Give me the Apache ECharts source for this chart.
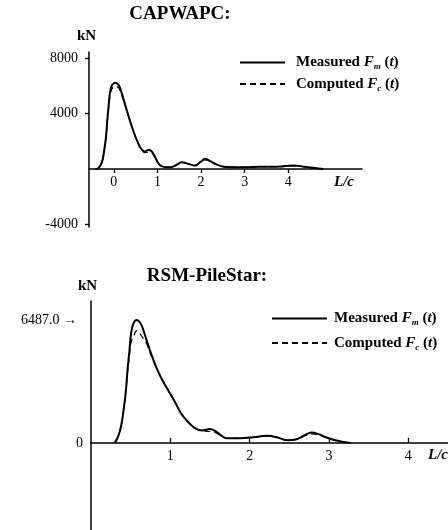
<!DOCTYPE html>
<html>
<head>
<meta charset="utf-8">
<script src="https://cdn.jsdelivr.net/npm/echarts@6/dist/echarts.min.js"></script>
<style>html,body{margin:0;padding:0;background:#fff;}#c{width:448px;height:530px;}</style>
</head>
<body>
<div id="c"></div>
<script>
// ---- Data ----
var topL = [-0.42,-0.36,-0.30,-0.26,-0.22,-0.18,-0.15,-0.115,-0.085,-0.04,0.04,0.11,0.17,0.25,0.33,0.40,0.48,0.56,0.63,0.71,0.79,0.86,0.94,1.02,1.09,1.21,1.29,1.41,1.56,1.71,1.86,1.98,2.09,2.21,2.36,2.51,2.97,3.36,3.74,4.12,4.35,4.66,4.80];
var topMeasured = [0,60,300,650,1370,2330,3530,4730,5570,6050,6220,6050,5570,4730,3890,3170,2450,1850,1440,1250,1370,1300,890,410,200,130,130,250,490,370,250,490,730,560,320,170,130,170,170,250,170,50,0];
var topComputed = [0,50,270,600,1300,2250,3400,4550,5350,5800,5950,5850,5400,4650,3850,3150,2430,1820,1400,1180,1200,1180,850,400,200,130,120,230,450,360,240,450,650,520,300,160,130,160,160,230,160,40,0];

var botL = [0.30,0.345,0.38,0.41,0.44,0.46,0.485,0.505,0.535,0.576,0.62,0.66,0.70,0.765,0.83,0.89,0.975,1.06,1.14,1.23,1.31,1.40,1.50,1.56,1.63,1.71,1.88,2.05,2.22,2.34,2.47,2.59,2.70,2.78,2.87,2.97,3.08,3.18,3.27];
var botMeasured = [0,372,904,1700,2765,3830,4890,5780,6310,6487,6345,5955,5425,4625,3915,3385,2765,2145,1525,1080,780,650,727,640,425,250,250,300,372,300,142,195,425,550,460,285,142,53,0];
var botComputed = [0,372,904,1700,2700,3700,4600,5300,5600,5918,5740,5500,5245,4530,3915,3385,2765,2145,1525,1080,780,640,600,560,400,240,250,300,372,300,142,180,380,470,420,270,130,50,0];

var topXTicks = [0,1,2,3,4];
var topYTicks = [-4000,4000,8000];
var botXTicks = [1,2,3,4];
var botYTicks = [0,6487];
var peakLabel = '6487.0 \u2192';

function zip(xs, ys){ return xs.map(function(x,i){ return [x, ys[i]]; }); }

var FONT = 'Liberation Serif';
var chart = echarts.init(document.getElementById('c'), null, {renderer:'canvas'});

// grid geometry
var topGrid = {left: 89, right: 86, top: 52, bottom: 303};
var botGrid = {left: 91, right: 0, top: 301, bottom: 0};
var topYMin = -4180, topYMax = 8430, botYMin = -4600, botYMax = 7490;
function zeroOffset(g, min, max){
  var h = 530 - g.top - g.bottom;
  return -(h * (0 - min) / (max - min));
}

var legendRich = {
  n: {fontFamily: FONT, fontWeight: 'bold', fontSize: 15, color: '#000', lineHeight: 18},
  i: {fontFamily: FONT, fontWeight: 'bold', fontStyle: 'italic', fontSize: 15, color: '#000', lineHeight: 18},
  s: {fontFamily: FONT, fontWeight: 'bold', fontStyle: 'italic', fontSize: 9, color: '#000', lineHeight: 8, verticalAlign: 'bottom'}
};
function legendFmt(name){
  if (name.indexOf('Measured') >= 0) return '{n|Measured }{i|F}{s|m}{n| (}{i|t}{n|)}';
  return '{n|Computed }{i|F}{s|c}{n| (}{i|t}{n|)}';
}
function plain(v){ return String(v); }

var option = {
  animation: false,
  backgroundColor: '#fff',
  textStyle: {fontFamily: FONT, color: '#000'},
  title: [
    {text: 'CAPWAPC:', left: 180, top: 5, textAlign: 'center', padding: 0,
     textStyle: {fontFamily: FONT, fontWeight: 'bold', fontSize: 19, color: '#000'}},
    {text: 'RSM-PileStar:', left: 207, top: 267, textAlign: 'center', padding: 0,
     textStyle: {fontFamily: FONT, fontWeight: 'bold', fontSize: 19, color: '#000'}}
  ],
  legend: [
    {data: ['Measured (top)', 'Computed (top)'], orient: 'vertical', left: 239, top: 55, padding: 0,
     itemWidth: 45, itemHeight: 14, itemGap: 5, formatter: legendFmt,
     itemStyle: {opacity: 0, borderWidth: 0},
     textStyle: {rich: legendRich, padding: [0,0,0,6]}},
    {data: ['Measured (bottom)', 'Computed (bottom)'], orient: 'vertical', left: 271, top: 311, padding: 0,
     itemWidth: 55, itemHeight: 14, itemGap: 8, formatter: legendFmt,
     itemStyle: {opacity: 0, borderWidth: 0},
     textStyle: {rich: legendRich, padding: [0,0,0,2]}}
  ],
  grid: [
    {left: topGrid.left, right: topGrid.right, top: topGrid.top, bottom: topGrid.bottom},
    {left: botGrid.left, right: botGrid.right, top: botGrid.top, bottom: botGrid.bottom}
  ],
  xAxis: [
    {type: 'value', gridIndex: 0, min: -0.57, max: 5.69, position: 'bottom',
     offset: zeroOffset(topGrid, topYMin, topYMax),
     splitLine: {show: false},
     axisLine: {onZero: false, lineStyle: {color: '#000', width: 1.5}},
     axisTick: {show: true, inside: false, length: 4, customValues: topXTicks, lineStyle: {color: '#000', width: 1.3}},
     axisLabel: {customValues: topXTicks, margin: 6, formatter: plain, fontFamily: FONT, fontSize: 14, color: '#000'}},
    {type: 'value', gridIndex: 1, min: 0, max: 4.5, position: 'bottom',
     offset: zeroOffset(botGrid, botYMin, botYMax),
     splitLine: {show: false},
     axisLine: {onZero: false, lineStyle: {color: '#000', width: 1.5}},
     axisTick: {show: true, inside: true, length: 5, customValues: botXTicks, lineStyle: {color: '#000', width: 1.3}},
     axisLabel: {customValues: botXTicks, margin: 6, formatter: plain, fontFamily: FONT, fontSize: 14, color: '#000'}}
  ],
  yAxis: [
    {type: 'value', gridIndex: 0, min: topYMin, max: topYMax,
     splitLine: {show: false},
     axisLine: {show: true, onZero: false, lineStyle: {color: '#000', width: 1.5}},
     axisTick: {show: true, inside: false, length: 4, customValues: topYTicks, lineStyle: {color: '#000', width: 1.3}},
     axisLabel: {customValues: topYTicks, margin: 11, formatter: plain, fontFamily: FONT, fontSize: 14, color: '#000'}},
    {type: 'value', gridIndex: 1, min: botYMin, max: botYMax,
     splitLine: {show: false},
     axisLine: {show: true, onZero: false, lineStyle: {color: '#000', width: 1.5}},
     axisTick: {show: false, customValues: botYTicks},
     axisLabel: {customValues: botYTicks, margin: 8, fontFamily: FONT, fontSize: 14, color: '#000',
       formatter: function(v){ return v === 0 ? '0' : '{a|' + peakLabel + '}'; },
       rich: {a: {fontFamily: FONT, fontSize: 14, color: '#000', padding: [0,6,0,0]}}}}
  ],
  graphic: [
    {type: 'text', left: 77, top: 29, style: {text: 'kN', font: 'bold 15px "Liberation Serif"', fill: '#000'}},
    {type: 'text', left: 78, top: 279, style: {text: 'kN', font: 'bold 15px "Liberation Serif"', fill: '#000'}},
    {type: 'text', left: 334, top: 175, style: {text: 'L/c', font: 'italic bold 15px "Liberation Serif"', fill: '#000'}},
    {type: 'text', left: 428, top: 448, style: {text: 'L/c', font: 'italic bold 15px "Liberation Serif"', fill: '#000'}}
  ],
  series: [
    {name: 'Measured (top)', type: 'line', xAxisIndex: 0, yAxisIndex: 0, data: zip(topL, topMeasured),
     smooth: 0.4, symbol: 'none', lineStyle: {color: '#000', width: 2}, itemStyle: {color: '#000'}, z: 3},
    {name: 'Computed (top)', type: 'line', xAxisIndex: 0, yAxisIndex: 0, data: zip(topL, topComputed),
     smooth: 0.4, symbol: 'none', lineStyle: {color: '#000', width: 1.2, type: [6,4]}, itemStyle: {color: '#000'}, z: 2},
    {name: 'Measured (bottom)', type: 'line', xAxisIndex: 1, yAxisIndex: 1, data: zip(botL, botMeasured),
     smooth: 0.4, symbol: 'none', lineStyle: {color: '#000', width: 2}, itemStyle: {color: '#000'}, z: 3},
    {name: 'Computed (bottom)', type: 'line', xAxisIndex: 1, yAxisIndex: 1, data: zip(botL, botComputed),
     smooth: 0.4, symbol: 'none', lineStyle: {color: '#000', width: 1.2, type: [6,4]}, itemStyle: {color: '#000'}, z: 2}
  ]
};
chart.setOption(option);
</script>
</body>
</html>
